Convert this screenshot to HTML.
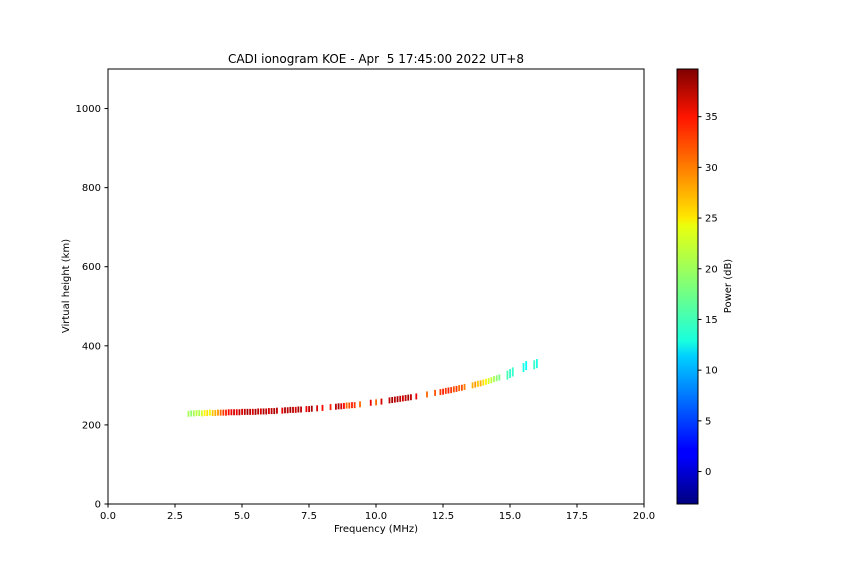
<!DOCTYPE html>
<html><head><meta charset="utf-8"><style>
body{margin:0;background:#fff}
svg text{font-family:"DejaVu Sans","Liberation Sans",sans-serif;fill:#000}
</style></head><body>
<svg id="c" width="864" height="576" xmlns="http://www.w3.org/2000/svg">
<defs><linearGradient id="jet" x1="0" y1="1" x2="0" y2="0">
<stop offset="0" stop-color="#00007f"/><stop offset="0.11" stop-color="#0000ff"/><stop offset="0.125" stop-color="#0000ff"/>
<stop offset="0.34" stop-color="#00d0ff"/><stop offset="0.375" stop-color="#19ffde"/><stop offset="0.5" stop-color="#7dff7a"/>
<stop offset="0.64" stop-color="#eaff0d"/><stop offset="0.66" stop-color="#ffe500"/><stop offset="0.89" stop-color="#ff1400"/><stop offset="1" stop-color="#7f0000"/>
</linearGradient></defs>
<text x="376" y="63" font-size="12" text-anchor="middle" style="white-space:pre" xml:space="preserve">CADI ionogram KOE - Apr  5 17:45:00 2022 UT+8</text>
<g id="marks"></g>
<rect x="108" y="69" width="536" height="435" fill="none" stroke="#000" stroke-width="1"/>
<g id="axes"></g>
<text x="376" y="532" font-size="10" text-anchor="middle">Frequency (MHz)</text>
<text transform="translate(69,286) rotate(-90)" font-size="10" text-anchor="middle">Virtual height (km)</text>
<rect x="677" y="69" width="21" height="435" fill="url(#jet)" stroke="#000" stroke-width="1"/>
<g id="cbax"></g>
<text transform="translate(731,286) rotate(-90)" font-size="10" text-anchor="middle">Power (dB)</text>
</svg>
<script>
const freqs=[3.0,3.1,3.2,3.3,3.4,3.5,3.6,3.7,3.8,3.9,4.0,4.1,4.2,4.3,4.4,4.5,4.6,4.7,4.8,4.9,5.0,5.1,5.2,5.3,5.4,5.5,5.6,5.7,5.8,5.9,6.0,6.1,6.2,6.3,6.5,6.6,6.7,6.8,6.9,7.0,7.1,7.2,7.4,7.5,7.6,7.8,8.0,8.3,8.5,8.6,8.7,8.8,8.9,9.0,9.1,9.2,9.4,9.8,10.0,10.2,10.5,10.6,10.7,10.8,10.9,11.0,11.1,11.2,11.3,11.5,11.9,12.2,12.4,12.5,12.6,12.7,12.8,12.9,13.0,13.1,13.2,13.3,13.6,13.7,13.8,13.9,14.0,14.1,14.2,14.3,14.4,14.5,14.6,14.9,15.0,15.1,15.5,15.6,15.9,16.0];
const heights=[228,229,229,230,230,229,230,230,231,230,230,231,231,231,231,232,232,232,232,232,233,233,233,233,233,233,234,234,234,234,235,235,235,236,236,237,237,238,238,238,239,239,240,240,241,242,243,245,246,247,247,248,249,249,250,250,252,256,257,259,262,263,264,265,266,267,268,269,270,272,277,281,283,284,286,287,288,290,291,293,294,296,300,302,304,305,307,309,311,313,316,318,320,326,330,334,345,350,352,355];
const powers=[20,19,20,21,20,22,24,25,23,26,27,28,30,32,33,34,35,36,35,37,36,37,38,37,36,38,37,36,38,37,36,37,38,37,35,38,37,38,37,36,38,37,35,37,38,36,34,33,37,38,36,34,30,31,33,32,30,35,30,36,37,38,37,38,37,36,37,38,37,35,30,31,32,33,32,33,32,31,32,30,31,29,27,28,26,27,25,24,22,21,20,19,18,16,15,15,14,13,15,14];
const xTicks=[0,2.5,5,7.5,10,12.5,15,17.5,20];
const yTicks=[0,200,400,600,800,1000];
const cTicks=[0,5,10,15,20,25,30,35];
const X=f=>108+f/20*536, Y=h=>504-h/1100*435;
const VMIN=-3.2,VMAX=39.7, C=v=>504-(v-VMIN)/(VMAX-VMIN)*435;
function jet(t){t=Math.max(0,Math.min(1,t));
 const r=Math.max(0,Math.min(1,1.5-Math.abs(4*t-3))),g=Math.max(0,Math.min(1,1.5-Math.abs(4*t-2))),b=Math.max(0,Math.min(1,1.5-Math.abs(4*t-1)));
 return `rgb(${r*255|0},${g*255|0},${b*255|0})`;}
const NS="http://www.w3.org/2000/svg";
function mk(tag,attrs,parent,txt){const e=document.createElementNS(NS,tag);for(const k in attrs)e.setAttribute(k,attrs[k]);if(txt!==undefined)e.textContent=txt;parent.appendChild(e);return e;}
const marks=document.getElementById('marks');
freqs.forEach((f,i)=>{
 const tall=heights[i]>320?9:6;
 const r=mk('rect',{x:X(f)-0.8,y:Y(heights[i])-tall/2,width:1.8,height:tall,fill:jet((powers[i]-VMIN)/(VMAX-VMIN))},marks);
 
 
});
const ax=document.getElementById('axes');
xTicks.forEach(v=>{mk('line',{x1:X(v),x2:X(v),y1:504,y2:507.5,stroke:'#000'},ax);
 const t=mk('text',{x:X(v),y:519,'font-size':10,'text-anchor':'middle'},ax,v.toFixed(1));
 });
yTicks.forEach(v=>{mk('line',{x1:104.5,x2:108,y1:Y(v),y2:Y(v),stroke:'#000'},ax);
 const t=mk('text',{x:101,y:Y(v)+3.5,'font-size':10,'text-anchor':'end'},ax,String(v));
 });
const cb=document.getElementById('cbax');
cTicks.forEach(v=>{mk('line',{x1:698,x2:701.5,y1:C(v),y2:C(v),stroke:'#000'},cb);
 const t=mk('text',{x:705,y:C(v)+3.5,'font-size':10},cb,String(v));
 });
</script>
</body></html>
